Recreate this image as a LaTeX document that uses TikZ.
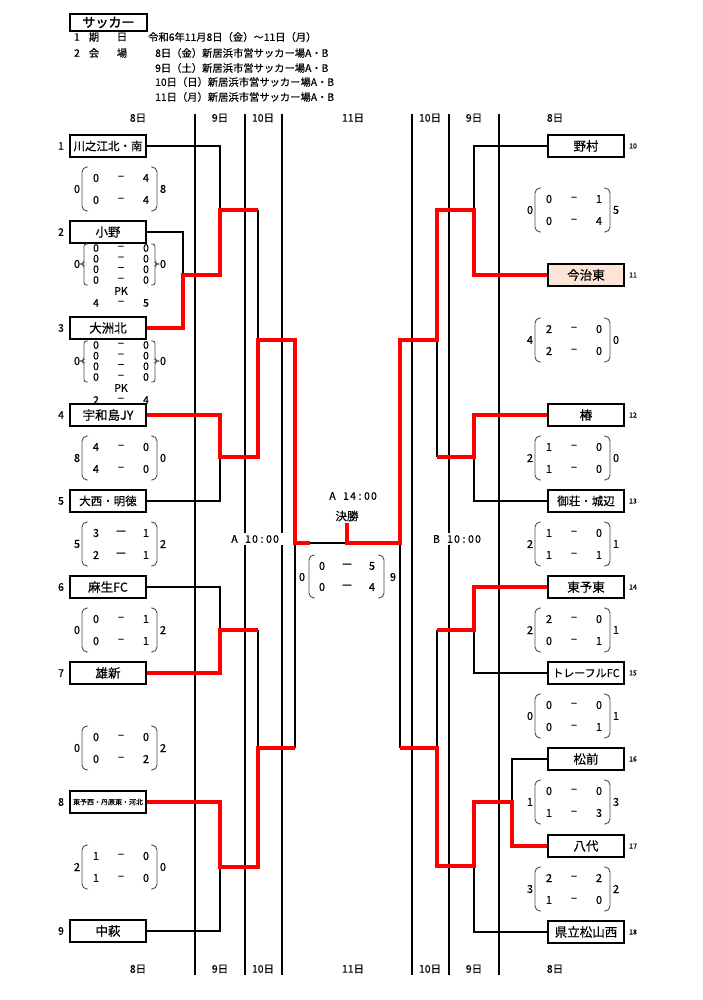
\documentclass[tikz,border=0pt]{standalone}
\usepackage{fontspec}
\setmainfont{Noto Sans CJK JP}[FakeBold=0.4]
\newfontfamily\bfcjk{Noto Sans CJK JP}[FakeBold=2.2]
\newcommand\fsz[1]{\fontsize{#1}{#1}\selectfont}
\newcommand\tcb[1]{\makebox[7pt]{#1}}
\def\dsh{−}
\newcommand\blockTwo[9]{%
  \draw[paren] (#2+11,#3-22) -- (#2+5,#3-22) -- (#2+5,#3+22) -- (#2+11,#3+22);
  \draw[paren] (#2+74,#3-22) -- (#2+80,#3-22) -- (#2+80,#3+22) -- (#2+74,#3+22);
  \node[sc] (#1L) at (#2,#3) {#4};
  \node[sc] (#1R) at (#2+86,#3) {#5};
  \node[sc] (#1a) at (#2+19,#3-11) {#6};
  \node[sc] (#1da) at (#2+44,#3-11) {\dsh};
  \node[sc] (#1b) at (#2+69,#3-11) {#7};
  \node[sc] (#1c) at (#2+19,#3+11) {#8};
  \node[sc] (#1dc) at (#2+44,#3+11) {\dsh};
  \node[sc] (#1e) at (#2+69,#3+11) {#9};
}
\newcommand\blockFour[5]{%
  \draw[brace] (#2+11,#3-4) -- (#2+7,#3-4) -- (#2+7,#3+15) -- (#2+4,#3+16) -- (#2+7,#3+17) -- (#2+7,#3+37) -- (#2+11,#3+37);
  \draw[brace] (#2+74,#3-4) -- (#2+78,#3-4) -- (#2+78,#3+15) -- (#2+81,#3+16) -- (#2+78,#3+17) -- (#2+78,#3+37) -- (#2+74,#3+37);
  \node[sc] (#1L) at (#2,#3+16) {0};
  \node[sc] (#1R) at (#2+86,#3+16) {0};
  \foreach \k/\dy in {1/0,2/10.7,3/21.3,4/32}{
    \node[sc4] (#1a\k) at (#2+19,#3+\dy) {0};
    \node[sc4] (#1d\k) at (#2+44,#3+\dy) {−};
    \node[sc4] (#1b\k) at (#2+69,#3+\dy) {0};}
  \node[sc4] (#1pk) at (#2+44,#3+43) {PK};
  \node[sc4] (#1pa) at (#2+19,#3+55) {#4};
  \node[sc4] (#1pd) at (#2+44,#3+55) {−};
  \node[sc4] (#1pb) at (#2+69,#3+55) {#5};
}
\begin{document}
\begin{tikzpicture}[x=1pt,y=-1pt,
  team/.style={draw,fill=white,line width=1.5pt,minimum width=76pt,minimum height=22pt,inner sep=0pt,font=\fsz{12.5}},
  lnum/.style={inner sep=0pt,font=\fsz{10.5}},
  rnum/.style={inner sep=0pt,font=\fsz{7}},
  sc/.style={inner sep=0pt,font=\fsz{11}},
  sc4/.style={inner sep=0pt,font=\fsz{10.5}},
  hd/.style={inner sep=0pt,font=\fsz{10.3}},
  dl/.style={inner sep=0pt,font=\fsz{10.5}},
  blk/.style={line width=1.3pt},
  win/.style={line width=3.5pt,draw=red},
  sep/.style={line width=1.8pt},
  paren/.style={draw=black!70,line width=0.9pt,rounded corners=5pt},
  brace/.style={draw=black!70,line width=0.9pt,rounded corners=2.5pt},
  tlabel/.style={fill=white,inner sep=0pt,font=\fsz{10.5}},
]
\useasboundingbox (0,0) rectangle (703,1000);

% ---------- header ----------
\node[draw,line width=2pt,minimum width=77pt,minimum height=17pt,inner sep=0pt,text width=52pt,align=left,font=\bfcjk\fsz{13}] (title) at (108.5,22.5) {サッカー};
\node[hd] (h1n) at (77,37) {1};
\node[hd] (h1a) at (94,37) {期};
\node[hd] (h1b) at (122,37) {日};
\node[hd,anchor=west] (h1t) at (148,37) {令和6年11月8日（金）～11日（月）};
\node[hd] (h2n) at (77,53) {2};
\node[hd] (h2a) at (94,53) {会};
\node[hd] (h2b) at (122,53) {場};
\node[hd,anchor=west] (v1) at (155,53) {8日（金）新居浜市営サッカー場A・B};
\node[hd,anchor=west] (v2) at (155,68) {9日（土）新居浜市営サッカー場A・B};
\node[hd,anchor=west] (v3) at (155,82) {10日（日）新居浜市営サッカー場A・B};
\node[hd,anchor=west] (v4) at (155,97) {11日（月）新居浜市営サッカー場A・B};

% ---------- day separators ----------
\foreach \x in {195,245,282,412,449,499} \draw[sep] (\x,114) -- (\x,975);

% day labels
\foreach \x/\t/\n in {138/8日/a,220/9日/b,263/10日/c,353/11日/d,430/10日/e,474/9日/f,555/8日/g}{
  \node[dl] (dt\n) at (\x,118) {\t};
  \node[dl] (db\n) at (\x,969) {\t};}

% ---------- teams ----------
\node[team,font=\fsz{11.5}] (t1) at (108,146) {川之江北・南};
\node[team] (t2) at (108,232) {小野};
\node[team] (t3) at (108,328) {大洲北};
\node[team] (t4) at (108,415) {宇和島JY};
\node[team,font=\fsz{11.5}] (t5) at (108,501) {大西・明徳};
\node[team] (t6) at (108,587) {麻生FC};
\node[team] (t7) at (108,673) {雄新};
\node[team,font=\fsz{7}] (t8) at (108,802) {東予西・丹原東・河北};
\node[team] (t9) at (108,931) {中萩};
\node[team] (t10) at (586,146) {野村};
\node[team,fill={rgb,255:red,252;green,228;blue,214}] (t11) at (586,275) {今治東};
\node[team] (t12) at (586,415) {椿};
\node[team,font=\fsz{11.5}] (t13) at (586,501) {御荘・城辺};
\node[team] (t14) at (586,587) {東予東};
\node[team,font=\fsz{11}] (t15) at (586,673) {トレーフルFC};
\node[team] (t16) at (586,759) {松前};
\node[team] (t17) at (586,846) {八代};
\node[team] (t18) at (586,932) {県立松山西};

\foreach \i/\y in {1/146,2/232,3/328,4/415,5/501,6/587,7/673,8/802,9/931}
  \node[lnum] (ln\i) at (61,\y) {\i};
\foreach \i/\y in {10/146,11/275,12/415,13/501,14/587,15/673,16/759,17/846,18/932}
  \node[rnum] (rn\i) at (633,\y) {\i};

% ---------- junctions ----------
\coordinate (j1) at (220,210);
\coordinate (j23) at (183,275);
\coordinate (j23b) at (220,275);
\coordinate (k1) at (258,210);
\coordinate (k2) at (258,340);
\coordinate (j45) at (220,457);
\coordinate (k3) at (258,457);
\coordinate (m1) at (295,340);
\coordinate (fL) at (295,543);
\coordinate (fLr) at (310,543);
\coordinate (fM) at (347,543);
\coordinate (fTop) at (347,523);
\coordinate (j67) at (220,630);
\coordinate (k4) at (258,630);
\coordinate (k5) at (258,748);
\coordinate (m2) at (295,748);
\coordinate (j89) at (220,867);
\coordinate (k6) at (258,867);
\coordinate (fR) at (400,543);
\coordinate (n1) at (400,340);
\coordinate (p1) at (437,340);
\coordinate (p0) at (437,210);
\coordinate (q1) at (474,210);
\coordinate (q2) at (474,275);
\coordinate (p2) at (437,457);
\coordinate (q3) at (474,457);
\coordinate (n2) at (400,748);
\coordinate (p3) at (437,748);
\coordinate (p4) at (437,630);
\coordinate (q4) at (474,630);
\coordinate (p5) at (437,866);
\coordinate (q5) at (474,866);
\coordinate (q6) at (474,802);
\coordinate (r1) at (512,802);
\coordinate (r2) at (512,846);

% ---------- black connectors ----------
\draw[blk] (t1.east) -| (j1);
\draw[blk] (t2.east) -| (j23);
\draw[blk] (k1) -- (k2);
\draw[blk] (t5.east) -| (j45);
\draw[blk] (fLr) -- (fM);
\draw[blk] (t6.east) -| (j67);
\draw[blk] (k4) -- (k5);
\draw[blk] (t9.east) -| (j89);
\draw[blk] (m2) -- (fL);
\draw[blk] (t10.west) -| (q1);
\draw[blk] (p1) -- (p2);
\draw[blk] (t13.west) -| (q3);
\draw[blk] (fR) -- (n2);
\draw[blk] (t15.west) -| (q4);
\draw[blk] (p4) -- (p3);
\draw[blk] (t16.west) -| (r1);
\draw[blk] (t18.west) -| (q5);

% ---------- winners (red) ----------
\draw[win] (t3.east) -| (j23) -- (j23b) -- (j1) -- (k1);
\draw[win] (t4.east) -| (j45) -- (k3) -- (k2) -- (m1) -- (fL) -- (fLr);
\draw[win] (t7.east) -| (j67) -- (k4);
\draw[win] (t8.east) -| (j89) -- (k6) -- (k5) -- (m2);
\draw[win] (fTop) -- (fM) -- (fR) -- (n1) -- (p1) -- (p0) -- (q1) -- (q2) -- (t11.west);
\draw[win] (t12.west) -| (q3) -- (p2);
\draw[win] (t14.west) -| (q4) -- (p4);
\draw[win] (n2) -- (p3) -- (p5) -- (q5) -- (q6) -- (r1) -- (r2) -- (t17.west);

% ---------- scores ----------
\blockTwo{S1}{77}{189}{0}{8}{0}{4}{0}{4}
\blockFour{S2}{77}{248}{4}{5}
\blockFour{S3}{77}{345}{2}{4}
\blockTwo{S4}{77}{458}{8}{0}{4}{0}{4}{0}
\def\dsh{ー}
\blockTwo{S5}{77}{544}{5}{2}{3}{1}{2}{1}
\def\dsh{−}
\blockTwo{S6}{77}{630}{0}{2}{0}{1}{0}{1}
\blockTwo{S7}{77}{748}{0}{2}{0}{0}{0}{2}
\blockTwo{S8}{77}{867}{2}{0}{1}{0}{1}{0}

\blockTwo{R1}{530}{210}{0}{5}{0}{1}{0}{4}
\blockTwo{R2}{530}{340}{4}{0}{2}{0}{2}{0}
\blockTwo{R3}{530}{458}{2}{0}{1}{0}{1}{0}
\blockTwo{R4}{530}{544}{2}{1}{1}{0}{1}{1}
\blockTwo{R5}{530}{630}{2}{1}{2}{0}{0}{1}
\blockTwo{R6}{530}{716}{0}{1}{0}{0}{0}{1}
\blockTwo{R7}{530}{802}{1}{3}{0}{0}{1}{3}
\blockTwo{R8}{530}{889}{3}{2}{2}{2}{1}{0}

% final
\draw[paren] (315,555) -- (309,555) -- (309,598) -- (315,598);
\draw[paren] (378,555) -- (384,555) -- (384,598) -- (378,598);
\node[sc] (FL) at (302,577) {0};
\node[sc] (FR) at (393,577) {9};
\node[sc] (Fa) at (322,566) {0};
\node[sc] (Fda) at (347,566) {ー};
\node[sc] (Fb) at (372,566) {5};
\node[sc] (Fc) at (322,587) {0};
\node[sc] (Fdc) at (347,587) {ー};
\node[sc] (Fe) at (372,587) {4};

% ---------- center labels ----------
\node[dl] (finaltime) at (353,496) {\makebox[8pt]{A}\hspace{6pt}\tcb{1}\tcb{4}\tcb{:}\tcb{0}\tcb{0}};
\node[inner sep=0pt,font=\fsz{11.5}] (finallab) at (347,516) {決勝};
\node[tlabel,minimum width=60pt,minimum height=12pt] (timeA) at (255,539) {\makebox[8pt]{A}\hspace{6pt}\tcb{1}\tcb{0}\tcb{:}\tcb{0}\tcb{0}};
\node[tlabel,minimum width=56pt,minimum height=12pt] (timeB) at (457,539) {\makebox[8pt]{B}\hspace{6pt}\tcb{1}\tcb{0}\tcb{:}\tcb{0}\tcb{0}};
\end{tikzpicture}
\end{document}
